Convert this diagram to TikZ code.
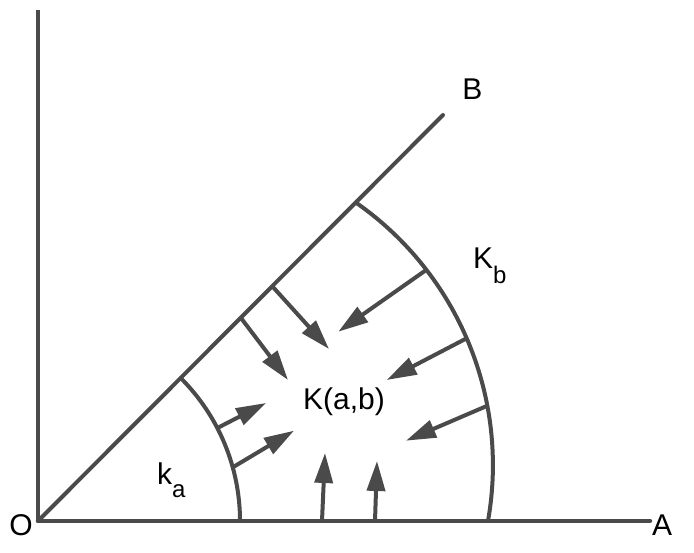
\documentclass[tikz,border=0pt]{standalone}
\usepackage{fontspec}
\setmainfont{Liberation Sans}
\usetikzlibrary{arrows.meta,calc}
\definecolor{ink}{HTML}{4A4A4A}
\begin{document}
\begin{tikzpicture}[x=1pt,y=1pt,
  ln/.style={draw=ink, line width=4pt, line cap=round},
  ax/.style={ln, line width=4.5pt},
  arr/.style={ln, line cap=butt, -{Triangle[length=30pt,width=18pt]}},
  lbl/.style={font=\fontsize{30}{36}\selectfont, inner sep=0pt, text=black}
]
\useasboundingbox (-38,-31) rectangle (656,521);
\coordinate (O) at (0,0);
\coordinate (Y) at (0,511);
\coordinate (A) at (612,0);
\coordinate (B) at (405,406);
\coordinate (C) at (134.7,55.8);
\draw[ax, line cap=butt] (Y) -- (O);
\draw[ax] (O) -- (A);
\draw[ln] (O) -- (B);
\draw[ln] (202,0) arc[start angle=0,end angle=45,radius=202];
\draw[ln] (450,0) arc[start angle=-10.04,end angle=55.03,radius=320.2];
% arrow anchors
\coordinate (p1) at (203,203);
\coordinate (t1) at (250,141);
\coordinate (p2) at (234.5,234.5);
\coordinate (t2) at (291,172);
\coordinate (q1) at (27.4:202);
\coordinate (u1) at (228,118);
\coordinate (q2) at (15.4:202);
\coordinate (u2) at (256,90.3);
\coordinate (r1) at ($(C)+(37.6:320.2)$);
\coordinate (v1) at (300.3,189.3);
\coordinate (r2) at ($(C)+(23.35:320.2)$);
\coordinate (v2) at (348.7,141);
\coordinate (r3) at ($(C)+(10.7:320.2)$);
\coordinate (v3) at (368,80.3);
\coordinate (s1) at (284,0);
\coordinate (w1) at (287,68);
\coordinate (s2) at (337,0);
\coordinate (w2) at (339,60);
\draw[arr] (p1) -- (t1);
\draw[arr] (p2) -- (t2);
\draw[arr] (q1) -- (u1);
\draw[arr] (q2) -- (u2);
\draw[arr] (r1) -- (v1);
\draw[arr] (r2) -- (v2);
\draw[arr] (r3) -- (v3);
\draw[arr] (s1) -- (w1);
\draw[arr] (s2) -- (w2);
% labels
\node[lbl, anchor=base] (lO) at (-17,-14) {O};
\node[lbl, anchor=base] (lA) at (624,-14) {A};
\node[lbl, anchor=base] (lB) at (434.5,421) {B};
\node[lbl, anchor=base] (lK) at (306,111) {K(a,b)};
\node[lbl, anchor=base west] (lKb) at (435,252.7) {K\raisebox{-15pt}{\fontsize{24}{28}\selectfont b}};
\node[lbl, anchor=base west] (lka) at (119,37) {k\raisebox{-14pt}{\fontsize{24}{28}\selectfont a}};
\end{tikzpicture}
\end{document}
